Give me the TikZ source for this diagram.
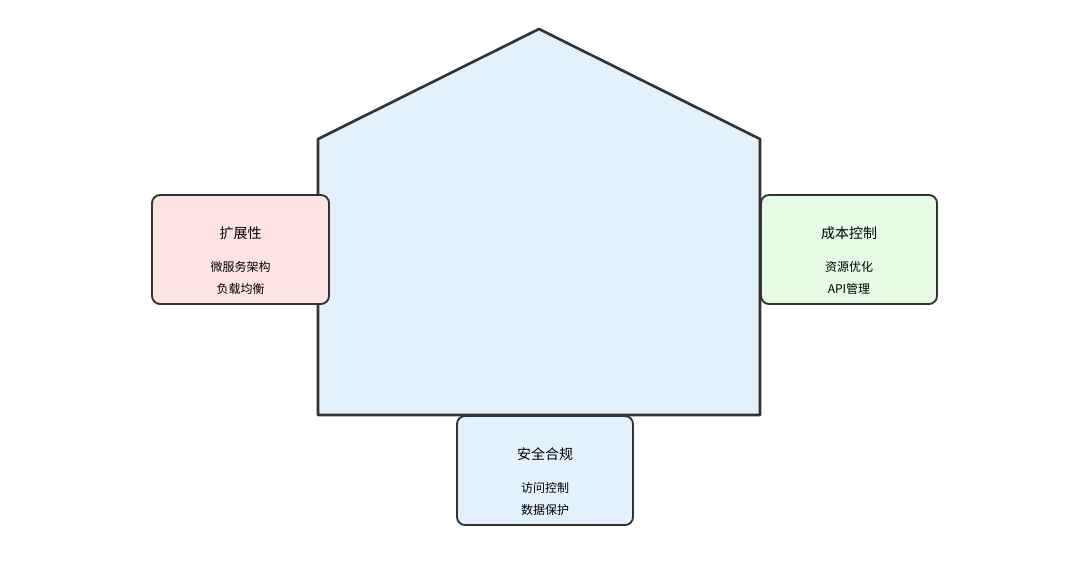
\documentclass[tikz,border=0pt]{standalone}
\usepackage{fontspec}
\setmainfont{Noto Sans CJK SC}
\definecolor{hblue}{HTML}{E3F1FD}
\definecolor{hred}{HTML}{FFE3E3}
\definecolor{hgreen}{HTML}{E5FBE3}
\definecolor{edge}{HTML}{333333}
\tikzset{card/.style={draw=edge,line width=1.4pt,rounded corners=6pt},
 ttl/.style={font=\fontsize{10.5pt}{12pt}\selectfont,text=black},
 itm/.style={font=\fontsize{9pt}{11pt}\selectfont,text=black,align=center}}
\begin{document}
\begin{tikzpicture}[x=0.75pt,y=-0.75pt]
\useasboundingbox (0,0) rectangle (1080,571);
\draw[draw=edge,fill=hblue,line width=2pt,line join=round] (539,29) -- (760,139) -- (760,415) -- (318,415) -- (318,139) -- cycle;
\draw[card,fill=hred] (152,195) rectangle (329,304);
\draw[card,fill=hgreen] (761,195) rectangle (937,304);
\draw[card,fill=hblue] (457,416) rectangle (633,525);
\node[ttl] (t1) at (240.5,233) {扩展性};
\node[itm] (i1) at (240.5,278) {微服务架构\\[5pt]负载均衡};
\node[ttl] (t2) at (849,233) {成本控制};
\node[itm] (i2) at (849,278) {资源优化\\[5pt]API管理};
\node[ttl] (t3) at (545,454) {安全合规};
\node[itm] (i3) at (545,499) {访问控制\\[5pt]数据保护};
\end{tikzpicture}
\end{document}
